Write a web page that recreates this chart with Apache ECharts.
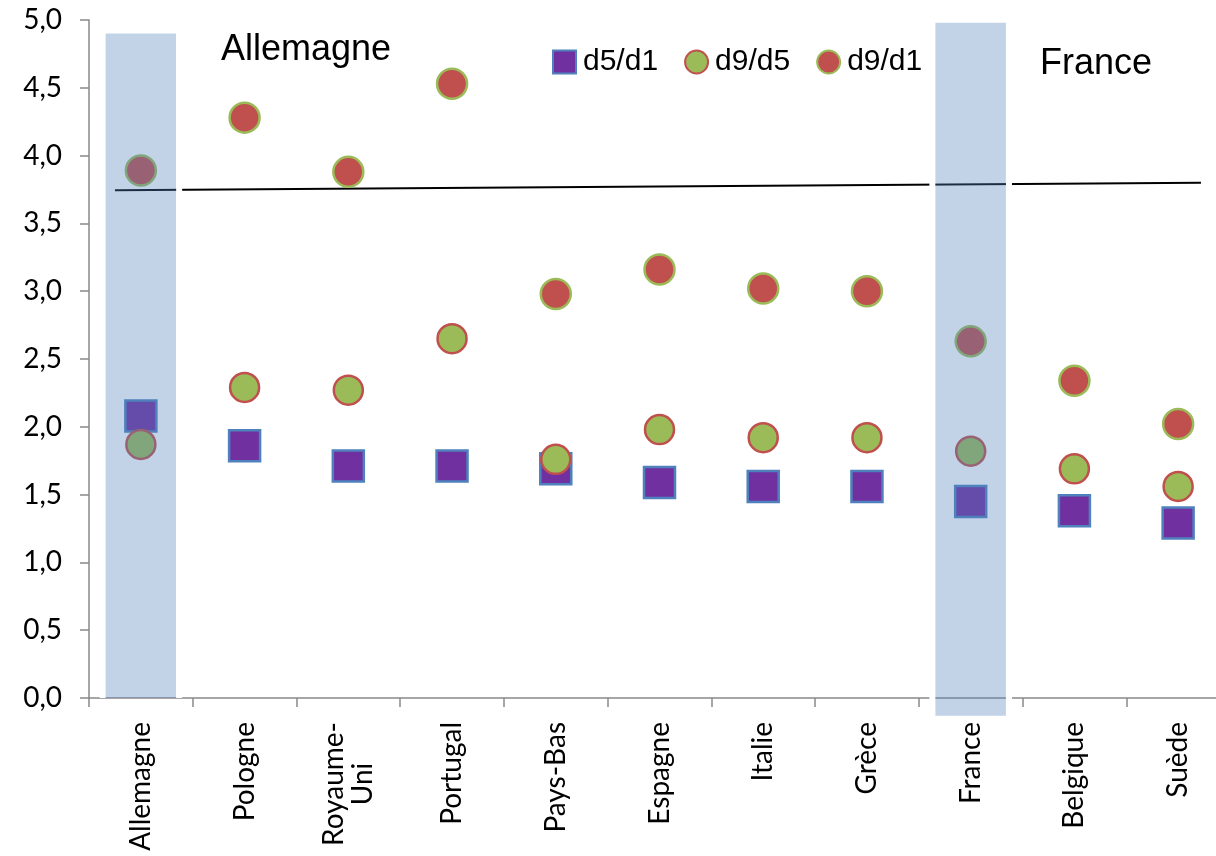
<!DOCTYPE html>
<html>
<head>
<meta charset="utf-8">
<script src="https://cdn.jsdelivr.net/npm/echarts@6/dist/echarts.min.js"></script>
<style>html,body{margin:0;padding:0;background:#fff}#c{width:1216px;height:856px}</style>
</head>
<body>
<div id="c"></div>
<script>
const categories = ['Allemagne','Pologne','Royaume-\nUni','Portugal','Pays-Bas','Espagne','Italie','Grèce','France','Belgique','Suède'];
const d5d1 = [2.08,1.86,1.71,1.71,1.69,1.59,1.56,1.56,1.45,1.38,1.29];
const d9d5 = [1.87,2.29,2.27,2.65,1.76,1.98,1.92,1.92,1.82,1.69,1.56];
const d9d1 = [3.89,4.28,3.88,4.53,2.98,3.16,3.02,3.00,2.63,2.34,2.02];
const bandCats = ['Allemagne','France'];
const bandTop = [4.90,4.98];
const bandBottom = [0,-0.13];
const trendX = [0.25,10.72];
const trendY = [3.745,3.80];

const chart = echarts.init(document.getElementById('c'));
const labelFont = 'Lato, "Open Sans", sans-serif';
const bandData = bandCats.map((c,i)=>[c,bandTop[i],bandBottom[i]]);
const trendData = trendX.map((x,i)=>[x,trendY[i]]);

chart.setOption({
  animation:false,
  backgroundColor:'#fff',
  grid:{left:89,width:1141,top:20,height:678,containLabel:false,outerBoundsMode:'none'},
  legend:{
    data:['d5/d1','d9/d5','d9/d1'],
    left:552, top:47, padding:0, itemWidth:23, itemHeight:23, itemGap:26, z:10,
    textStyle:{fontSize:30, fontFamily:'"Liberation Sans", Arial, sans-serif', color:'#000', padding:[0,0,0,2]}
  },
  xAxis:[{
    type:'category', data:categories, boundaryGap:true,
    axisLine:{lineStyle:{color:'#898989',width:1.5}},
    axisTick:{show:true,length:9,lineStyle:{color:'#898989',width:1.5}},
    axisLabel:{
      rotate:90, margin:24, interval:0,
      formatter:v=>v.split('\n').map(s=>'{c|'+s+'}').join('\n'),
      rich:{c:{fontSize:28,fontFamily:labelFont,color:'#000',align:'center',lineHeight:29}}
    },
    splitLine:{show:false}
  },{
    type:'value', min:0, max:11, show:false
  }],
  yAxis:{
    type:'value', min:0, max:5, interval:0.5,
    axisLine:{show:true,lineStyle:{color:'#898989',width:1.5}},
    axisTick:{show:true,inside:false,length:9,lineStyle:{color:'#898989',width:1.5}},
    axisLabel:{margin:27,fontSize:28,fontFamily:labelFont,color:'#000',
      formatter:v=>v.toFixed(1).replace('.',',')},
    splitLine:{show:false}
  },
  series:[
    {name:'d5/d1',type:'scatter',data:d5d1,symbol:'rect',symbolSize:31,z:2,
      itemStyle:{color:'#7030a0',borderColor:'#4f81bd',borderWidth:2.5,opacity:1}},
    {name:'d9/d5',type:'scatter',data:d9d5,symbol:'circle',symbolSize:29,z:2,
      itemStyle:{color:'#9bbb59',borderColor:'#c0504d',borderWidth:2.5,opacity:1}},
    {name:'d9/d1',type:'scatter',data:d9d1,symbol:'circle',symbolSize:30,z:2,
      itemStyle:{color:'#c0504d',borderColor:'#9bbb59',borderWidth:2.5,opacity:1}},
    {name:'trend',type:'line',xAxisIndex:1,data:trendData,symbol:'none',z:2,
      lineStyle:{color:'#000',width:2},silent:true},
    {name:'band',type:'custom',data:bandData,z:5,silent:true,clip:false,
      encode:{x:0,y:[1,2]},
      renderItem:(params,api)=>{
        const cx = api.coord([api.value(0),0])[0];
        const yT = api.coord([api.value(0),api.value(1)])[1];
        const yB = api.coord([api.value(0),api.value(2)])[1];
        const w = api.size([1,0])[0]*0.68;
        const h = yB-yT;
        return {type:'group',children:[
          {type:'rect',shape:{x:cx-w/2-6,y:yT,width:6,height:h},style:{fill:'#fff'}},
          {type:'rect',shape:{x:cx-w/2,y:yT,width:w,height:h},style:{fill:'rgba(79,129,189,0.35)'}},
          {type:'rect',shape:{x:cx+w/2,y:yT,width:6,height:h},style:{fill:'#fff'}}
        ]};
      }}
  ],
  graphic:[
    {type:'text',left:221,top:32,z:10,
      style:{text:'Allemagne',fontSize:36,fontFamily:'"Liberation Sans", Arial, sans-serif',fill:'#000'}},
    {type:'text',left:1040,top:46,z:10,
      style:{text:'France',fontSize:36,fontFamily:'"Liberation Sans", Arial, sans-serif',fill:'#000'}}
  ]
});
</script>
</body>
</html>
